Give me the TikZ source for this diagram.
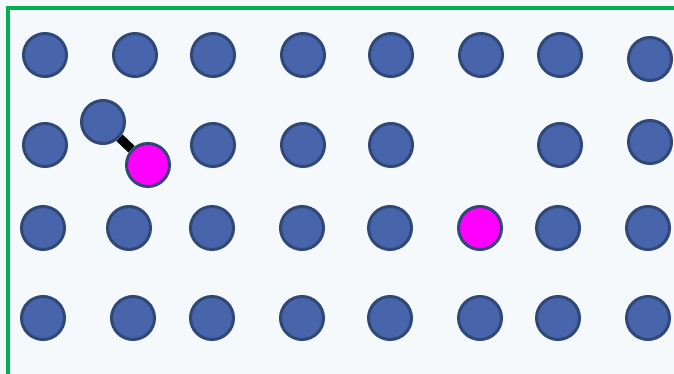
\documentclass[tikz,border=0pt]{standalone}
\usepackage{tikz}
\usetikzlibrary{backgrounds}
\definecolor{atomblue}{RGB}{72,101,172}
\definecolor{atomedge}{RGB}{47,72,120}
\definecolor{defectpink}{RGB}{255,0,255}
\definecolor{paleblue}{RGB}{245,249,252}
\definecolor{framegreen}{RGB}{0,176,80}

\begin{document}
\begin{tikzpicture}[
    x=1pt, y=-1pt,
    atom/.style={circle, draw=atomedge, line width=3pt, fill=atomblue, minimum size=43pt, inner sep=0pt},
    defect/.style={atom, fill=defectpink},
    bond/.style={line width=9pt, black}
]
    \useasboundingbox (0,0) rectangle (674,374);
    \clip (0,0) rectangle (674,374);

    % Lattice rows
    \foreach \x [count=\i] in {45,135,213,303,391,481,560}
        \node[atom] (a\i) at (\x,55) {};
    \node[atom] (a8) at (650,59) {};

    \node[atom] (b1) at (45,145) {};
    \node[atom] (b2) at (103,122) {};
    \node[defect] (b3) at (148,165) {};
    \foreach \x [count=\i from 4] in {213,303,391}
        \node[atom] (b\i) at (\x,145) {};
    \node[atom] (b7) at (560,145) {};
    \node[atom] (b8) at (650,142) {};

    \foreach \x [count=\i] in {43,129,212,302,390}
        \node[atom] (c\i) at (\x,228) {};
    \node[defect] (c6) at (480,228) {};
    \node[atom] (c7) at (558,228) {};
    \node[atom] (c8) at (648,228) {};

    \foreach \x [count=\i] in {43,133,212,302,390,480,558,648}
        \node[atom] (d\i) at (\x,318) {};

    % Background and bond
    \begin{scope}[on background layer]
        \fill[paleblue] (0,0) rectangle (674,374);
        \draw[framegreen, line width=3.5pt] (8,380) -- (8,8) -- (680,8);
        \draw[bond] (b2) -- (b3);
    \end{scope}
\end{tikzpicture}
\end{document}
